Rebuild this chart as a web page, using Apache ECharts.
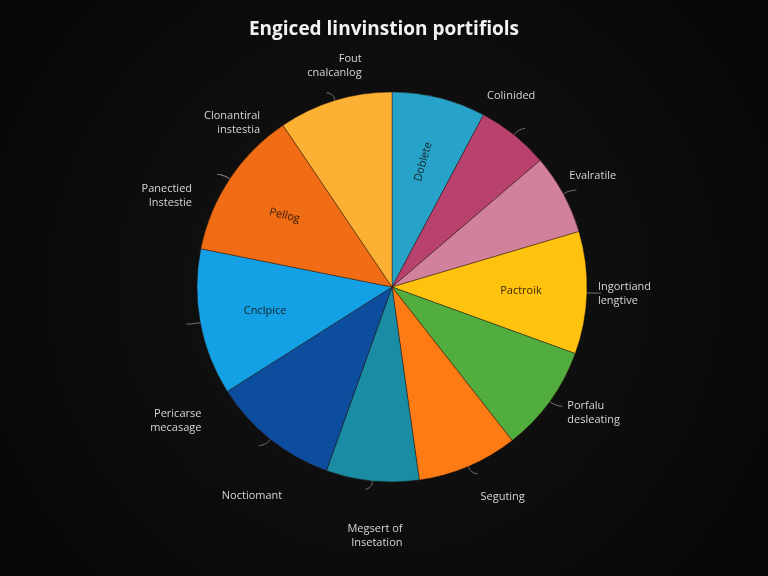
<!DOCTYPE html>
<html>
<head>
<meta charset="utf-8">
<script src="https://cdn.jsdelivr.net/npm/echarts@6/dist/echarts.min.js"></script>
<style>
  html, body { margin: 0; padding: 0; background: #0d0d0d; }
  #pie { width: 768px; height: 576px; }
</style>
</head>
<body>
<div id="pie"></div>
<script>
// slice sizes, clockwise from 12 o'clock
var sliceValues = [28, 21.5, 24, 36.5, 32, 30, 27.7, 38, 43.7, 44.7, 34]
var outerLabels = ['', 'Colinided', 'Evalratile', 'Ingortiand\nlengtive', 'Porfalu\ndesleating',
  'Seguting', 'Megsert of\nInsetation', 'Noctiomant', 'Pericarse\nmecasage', 'Panectied\nInstestie', 'Fout\ncnalcanlog']
var innerLabels = ['Doblete', '', '', 'Pactroik', '', '', '', '', 'Cnclpice', 'Pellog', '']
var extraLabels = ['', '', '', '', '', '', '', '', '', 'Clonantiral\ninstestia', '']
var sliceColors = ['#27a2c9', '#b9416d', '#d1819b', '#fec20f', '#51ae3e', '#fd7b14',
  '#1a8da4', '#0c4d9e', '#14a0e5', '#f16d15', '#fdb134']

// label nudges (style only)
var outerShift = [[0, 0], [-43, -33], [-12, -14], [-8, 1], [0, 7], [-2, 23], [42, 47], [28, 50], [20, 97], [-20, 21], [40, -27]]
var innerRotate = [74, 0, 0, 0, 0, 0, 0, 0, 0, -14, 0]
var extraShift = [[0, 0], [0, 0], [0, 0], [0, 0], [0, 0], [0, 0], [0, 0], [0, 0], [0, 0], [48, -52], [0, 0]]

var chart = echarts.init(document.getElementById('pie'))
var center = [392, 287]
var radius = 195

var labelFont = { color: '#d6d6d6', fontSize: 11, lineHeight: 14, fontFamily: 'Open Sans', align: 'center' }
var guide = { show: true, length: 8, length2: 6, smooth: 0.6, lineStyle: { color: '#777', width: 1 } }

function shifter(table) {
  return function (p) {
    var s = table[p.dataIndex]
    return { dx: s[0], dy: s[1] }
  }
}

var option = {
  backgroundColor: {
    type: 'radial', x: 0.5, y: 0.5, r: 0.75,
    colorStops: [{ offset: 0, color: '#151515' }, { offset: 1, color: '#070707' }]
  },
  title: {
    text: 'Engiced linvinstion portifiols',
    left: 'center',
    top: 15,
    textStyle: { color: '#f2f2f2', fontSize: 19, fontWeight: 'bold', fontFamily: 'Open Sans' }
  },
  series: [
    {
      name: 'main',
      type: 'pie',
      center: center,
      radius: radius,
      startAngle: 90,
      silent: true,
      avoidLabelOverlap: false,
      itemStyle: { borderColor: 'rgba(40,20,10,0.45)', borderWidth: 1 },
      label: Object.assign({ show: true, position: 'outside', formatter: '{b}' }, labelFont),
      labelLine: guide,
      labelLayout: shifter(outerShift),
      data: sliceValues.map(function (v, i) {
        return {
          value: v,
          name: outerLabels[i],
          itemStyle: { color: sliceColors[i] },
          labelLine: { show: outerLabels[i] !== '' }
        }
      })
    },
    {
      // transparent overlay, only carries the labels written on the slices
      name: 'inner',
      type: 'pie',
      center: center,
      radius: 252,
      startAngle: 90,
      silent: true,
      avoidLabelOverlap: false,
      itemStyle: { color: 'rgba(0,0,0,0)' },
      label: { show: true, position: 'inner', formatter: '{b}', color: 'rgba(20,10,5,0.85)', fontSize: 11, fontFamily: 'Open Sans' },
      labelLine: { show: false },
      data: sliceValues.map(function (v, i) {
        return { value: v, name: innerLabels[i], label: { rotate: innerRotate[i] } }
      })
    },
    {
      name: 'extra',
      type: 'pie',
      center: center,
      radius: radius,
      startAngle: 90,
      silent: true,
      avoidLabelOverlap: false,
      itemStyle: { color: 'rgba(0,0,0,0)' },
      label: Object.assign({ show: true, position: 'outside', formatter: '{b}' }, labelFont),
      labelLine: guide,
      labelLayout: shifter(extraShift),
      data: sliceValues.map(function (v, i) {
        return { value: v, name: extraLabels[i], labelLine: { show: extraLabels[i] !== '' } }
      })
    }
  ]
}
chart.setOption(option)
</script>
</body>
</html>
